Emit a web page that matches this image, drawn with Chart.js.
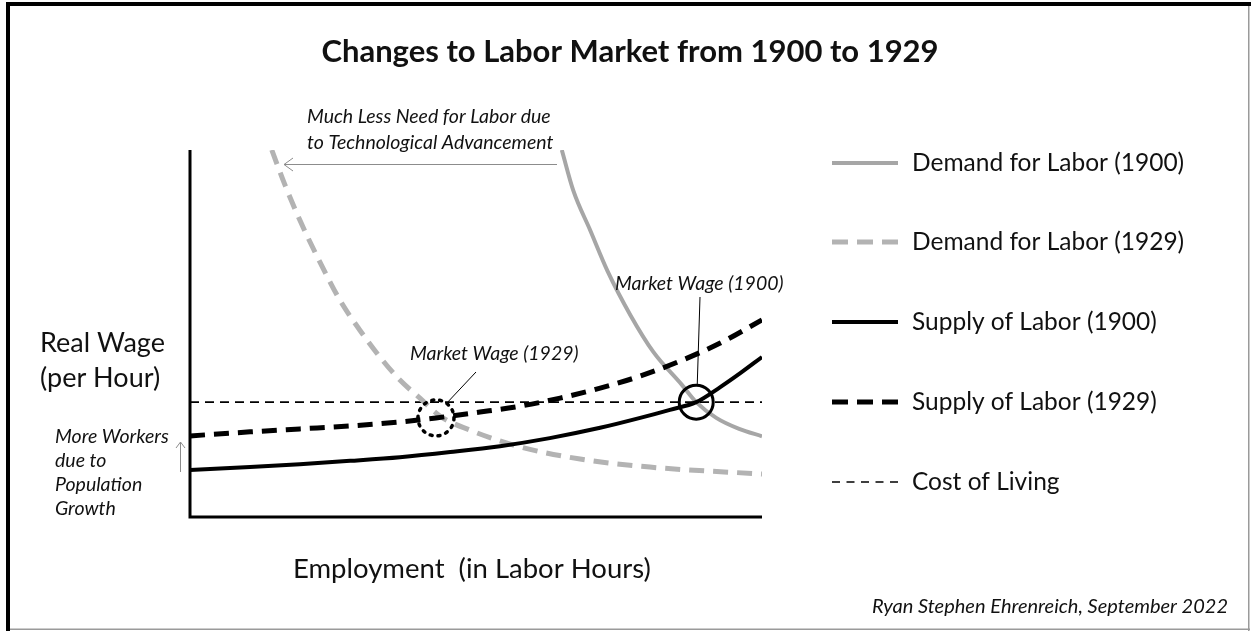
<!DOCTYPE html>
<html>
<head>
<meta charset="utf-8">
<script src="https://cdn.jsdelivr.net/npm/chart.js@4.4.0/dist/chart.umd.min.js"></script>
<style>
  html, body { margin:0; padding:0; background:#fff; }
  #wrap { width:1251px; height:631px; position:relative; }
</style>
</head>
<body>
<div id="wrap"><canvas id="myCanvas" width="1251" height="631"></canvas></div>
<script>
// employment (x) and real wage (y), 0..100 conceptual units
var demand1900X = [65, 67, 70, 73, 77, 81, 86, 88.5, 92, 96, 100];
var demand1900Y = [100, 89, 78, 67, 55, 45, 36, 31.3, 27, 24, 22];

var demand1929X = [14.3, 16.6, 19.2, 22.7, 26.2, 29.7, 33.2, 36.7, 40.2, 43.7, 48.9, 57.7, 68.2, 80.4, 100];
var demand1929Y = [100, 90.5, 80.9, 69.5, 59.1, 50.9, 43.6, 37.3, 32.4, 27.5, 23.7, 19.1, 15.8, 13.6, 11.7];

var supply1900X = [0, 10.5, 19.2, 28, 36.7, 45.5, 54.2, 62.9, 71.7, 78.7, 83.9, 88.5, 92.7, 96.2, 100];
var supply1900Y = [12.8, 13.6, 14.4, 15.3, 16.3, 17.7, 19.3, 21.5, 24.3, 27, 29.2, 31.3, 35.4, 39.2, 43.6];

var supply1929X = [0, 10.5, 19.2, 28, 36.7, 43, 50.7, 57.7, 64.7, 71.7, 78.7, 85.7, 92.7, 100];
var supply1929Y = [22.1, 23.2, 24, 24.8, 25.9, 27, 28.6, 30.2, 32.4, 35.1, 38.4, 42.5, 47.4, 53.7];

var costOfLivingX = [0, 100];
var costOfLivingY = [31.3, 31.3];

// equilibrium points (x, y)
var wage1929 = [43, 27];
var wage1900 = [88.5, 31.3];

var seriesNames = ["Demand for Labor (1900)", "Demand for Labor (1929)", "Supply of Labor (1900)", "Supply of Labor (1929)", "Cost of Living"];

function pts(xs, ys){
  var out = [];
  for (var i = 0; i < xs.length; i++) out.push({x: xs[i], y: ys[i]});
  return out;
}

var FONT = "Lato, 'Open Sans', sans-serif";

var styles = [
  {color:"#a6a6a6", width:4, dash:[]},
  {color:"#b3b3b3", width:5, dash:[15,9]},
  {color:"#000000", width:4, dash:[]},
  {color:"#000000", width:5, dash:[15,9]},
  {color:"#000000", width:1.6, dash:[9,6]}
];

function text(ctx, str, x, y, font, align){
  ctx.font = font;
  ctx.fillStyle = "#111";
  ctx.textAlign = align || "left";
  ctx.textBaseline = "middle";
  ctx.fillText(str, x, y);
}

var decor = {
  id: "decor",
  beforeDatasetsDraw: function(chart){
    var ctx = chart.ctx, a = chart.chartArea;
    ctx.save();
    // axes
    ctx.strokeStyle = "#000";
    ctx.lineWidth = 3;
    ctx.beginPath();
    ctx.moveTo(a.left, a.top);
    ctx.lineTo(a.left, a.bottom);
    ctx.lineTo(a.right, a.bottom);
    ctx.stroke();
    ctx.restore();
  },
  afterDraw: function(chart){
    var ctx = chart.ctx;
    var xs = chart.scales.x, ys = chart.scales.y;
    ctx.save();

    // frame
    ctx.fillStyle = "#000";
    ctx.fillRect(6, 2, 1245, 4);
    ctx.fillRect(6, 2, 4, 629);
    ctx.fillStyle = "#9a9a9a";
    ctx.fillRect(1248, 6, 1.5, 625);
    ctx.fillRect(10, 628.5, 1240, 1.5);

    // title
    text(ctx, "Changes to Labor Market from 1900 to 1929", 630, 52, "bold 31px " + FONT, "center");

    // axis labels
    text(ctx, "Real Wage", 40, 343, "27px " + FONT);
    text(ctx, "(per Hour)", 40, 378, "27px " + FONT);
    text(ctx, "Employment  (in Labor Hours)", 293, 569, "27.5px " + FONT);

    // annotations
    var it = "italic 19.5px " + FONT;
    text(ctx, "Much Less Need for Labor due", 307, 117, it);
    text(ctx, "to Technological Advancement", 307, 143, it);
    text(ctx, "Market Wage (1900)", 615, 284, it);
    text(ctx, "Market Wage (1929)", 410, 354, it);
    text(ctx, "More Workers", 55, 437, it);
    text(ctx, "due to", 55, 461, it);
    text(ctx, "Population", 55, 485, it);
    text(ctx, "Growth", 55, 509, it);
    text(ctx, "Ryan Stephen Ehrenreich, September 2022", 1228, 607, "italic 20px " + FONT, "right");

    // shift arrow (technology)
    ctx.strokeStyle = "#8c8c8c";
    ctx.lineWidth = 1;
    ctx.beginPath();
    ctx.moveTo(557, 164.5); ctx.lineTo(284, 164.5);
    ctx.moveTo(293, 158); ctx.lineTo(284, 164.5); ctx.lineTo(293, 171);
    ctx.stroke();

    // shift arrow (population)
    ctx.beginPath();
    ctx.moveTo(180.5, 472); ctx.lineTo(180.5, 442);
    ctx.moveTo(176, 448); ctx.lineTo(180.5, 442); ctx.lineTo(185, 448);
    ctx.stroke();

    // market wage circles
    var c1x = xs.getPixelForValue(wage1900[0]), c1y = ys.getPixelForValue(wage1900[1]);
    ctx.strokeStyle = "#000";
    ctx.lineWidth = 3;
    ctx.setLineDash([]);
    ctx.beginPath(); ctx.arc(c1x, c1y, 17, 0, Math.PI*2); ctx.stroke();
    ctx.lineWidth = 1;
    ctx.beginPath(); ctx.moveTo(700, 297); ctx.lineTo(c1x + 1, c1y - 17); ctx.stroke();

    var c2x = xs.getPixelForValue(wage1929[0]), c2y = ys.getPixelForValue(wage1929[1]);
    ctx.lineWidth = 3.5;
    ctx.setLineDash([2, 6]);
    ctx.lineCap = "round";
    ctx.beginPath(); ctx.arc(c2x, c2y, 18, 0, Math.PI*2); ctx.stroke();
    ctx.setLineDash([]);
    ctx.lineCap = "butt";
    ctx.lineWidth = 1;
    ctx.beginPath(); ctx.moveTo(476, 372); ctx.lineTo(c2x + 11, c2y - 15); ctx.stroke();

    // legend
    var rows = [163, 242, 322, 402, 482];
    for (var i = 0; i < seriesNames.length; i++){
      var s = styles[i];
      ctx.strokeStyle = s.color;
      ctx.lineWidth = s.width;
      ctx.setLineDash(i == 4 ? [8, 6.5] : (s.dash.length ? [16, 9] : []));
      ctx.beginPath();
      ctx.moveTo(832, rows[i]); ctx.lineTo(898, rows[i]);
      ctx.stroke();
      ctx.setLineDash([]);
      text(ctx, seriesNames[i], 912, rows[i], "24.5px " + FONT);
    }
    ctx.restore();
  }
};

var allX = [demand1900X, demand1929X, supply1900X, supply1929X, costOfLivingX];
var allY = [demand1900Y, demand1929Y, supply1900Y, supply1929Y, costOfLivingY];
var datasets = [];
for (var i = 0; i < seriesNames.length; i++){
  datasets.push({
    label: seriesNames[i],
    data: pts(allX[i], allY[i]),
    borderColor: styles[i].color,
    borderWidth: styles[i].width,
    borderDash: styles[i].dash,
    pointRadius: 0,
    fill: false,
    cubicInterpolationMode: "monotone"
  });
}
// draw order: cost of living at back, then demand, then supply
datasets[4].order = 5;
datasets[0].order = 4;
datasets[1].order = 3;
datasets[2].order = 2;
datasets[3].order = 1;

var myChart = document.getElementById("myCanvas").getContext('2d');
var chart = new Chart(myChart, {
  type: "line",
  data: { datasets: datasets },
  options: {
    responsive: false,
    animation: false,
    events: [],
    layout: { padding: { left: 190, right: 489, top: 150, bottom: 114 } },
    plugins: { legend: { display: false }, tooltip: { enabled: false }, title: { display: false } },
    scales: {
      x: { type: "linear", min: 0, max: 100, display: false },
      y: { type: "linear", min: 0, max: 100, display: false }
    }
  },
  plugins: [decor]
});
</script>
</body>
</html>
